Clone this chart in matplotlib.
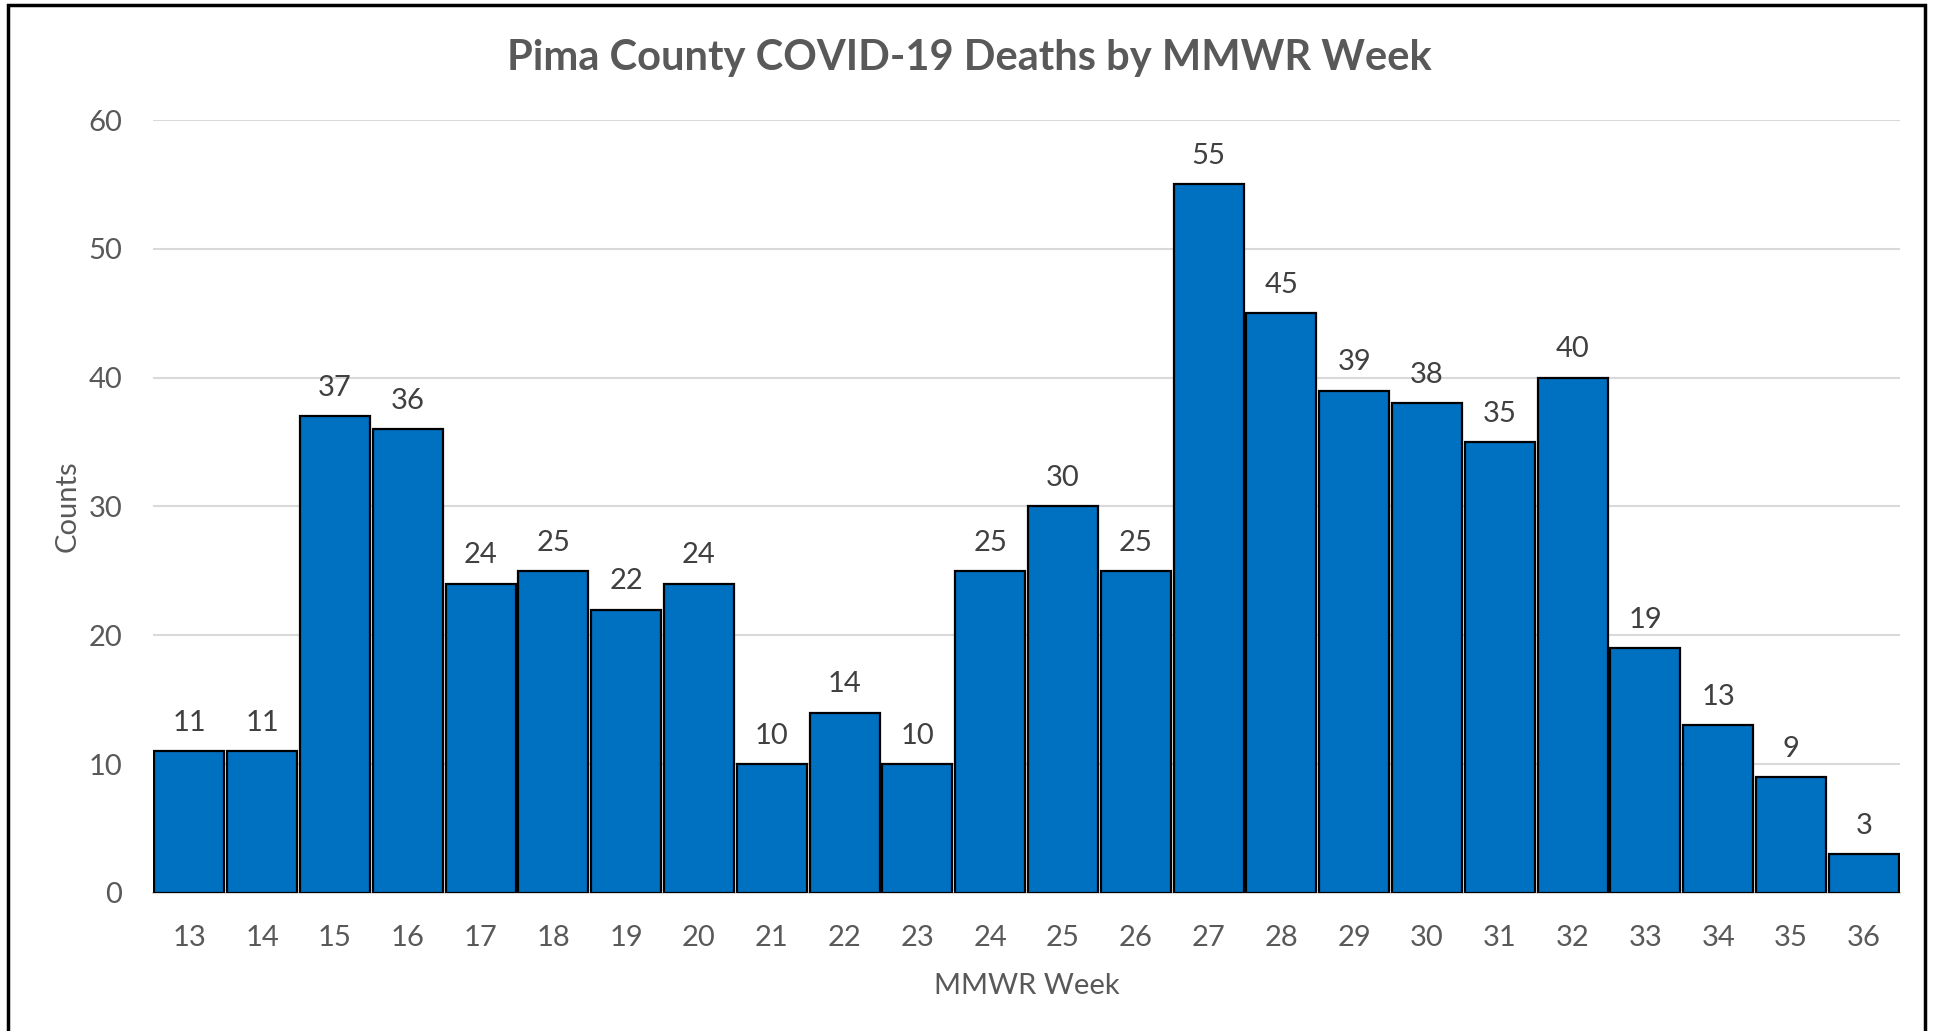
import matplotlib.pyplot as plt
from matplotlib.patches import Rectangle

semanas = ["13", "14", "15", "16", "17", "18", "19", "20", "21", "22", "23", "24",
           "25", "26", "27", "28", "29", "30", "31", "32", "33", "34", "35", "36"]
mortes = [11, 11, 37, 36, 24, 25, 22, 24, 10, 14, 10, 25,
          30, 25, 55, 45, 39, 38, 35, 40, 19, 13, 9, 3]

plt.rcParams["font.family"] = ["Lato", "DejaVu Sans"]
cinza = "#595959"

fig = plt.figure(figsize=(19.39, 10.31), dpi=100)
ax = fig.add_axes([0.0789, 0.1339, 0.9011, 0.7497])

x = range(len(semanas))
barras = ax.bar(x, mortes, width=0.96, color="#0070C0",
                edgecolor="black", linewidth=1.6, zorder=3)

for xi, v in zip(x, mortes):
    ax.annotate(str(v), (xi, v), xytext=(0, 11), textcoords="offset points",
                ha="center", va="bottom", fontsize=21, color="#404040")

ax.set_xlim(-0.5, len(semanas) - 0.5)
ax.set_ylim(0, 60)
ax.set_yticks(range(0, 61, 10))
ax.set_xticks(list(x))
ax.set_xticklabels(semanas)
ax.tick_params(axis="both", length=0, labelsize=21, labelcolor=cinza)
ax.tick_params(axis="x", pad=23)
ax.tick_params(axis="y", pad=22)

ax.grid(axis="y", color="#D9D9D9", linewidth=1.5, zorder=0)
for lado in ["top", "right", "left"]:
    ax.spines[lado].set_visible(False)
ax.spines["bottom"].set_color("#D9D9D9")
ax.spines["bottom"].set_linewidth(1.5)

ax.set_xlabel("MMWR Week", fontsize=21, color=cinza, labelpad=16)
ax.set_ylabel("Counts", fontsize=21, color=cinza, labelpad=6)

fig.text(0.5, 0.944, "Pima County COVID-19 Deaths by MMWR Week",
         ha="center", va="center", fontsize=30, fontweight="bold", color=cinza)

# moldura em volta da figura
fig.patches.append(Rectangle((0.004, -0.01), 0.989, 1.005, transform=fig.transFigure,
                             fill=False, edgecolor="black", linewidth=2.5))

plt.savefig("out.png", dpi=100)
plt.close()
